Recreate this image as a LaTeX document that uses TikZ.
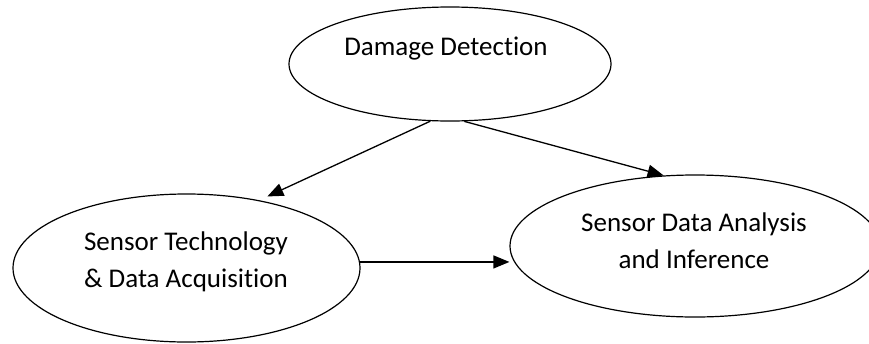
\documentclass[tikz,border=0pt]{standalone}
\usepackage{fontspec}
\setmainfont[Ligatures={NoCommon}]{Carlito}
\usetikzlibrary{arrows.meta,shapes.geometric,calc}
\begin{document}
\begin{tikzpicture}[x=1pt,y=-1pt,
  bubble/.style={draw=black,line width=1.2pt,ellipse,inner sep=0pt},
  txt/.style={font=\fontsize{27}{37}\selectfont,align=center,inner sep=0pt},
  conn/.style={line width=1.3pt,-{Triangle[length=16pt,width=13pt]}}]
\clip (0,0) rectangle (869,343);
\fill[white] (0,0) rectangle (869,343);
\node[bubble,minimum width=322pt,minimum height=114pt] (top) at (450,64) {};
\node[txt] (toptxt) at (446,49) {Damage Detection};
\node[bubble,minimum width=347pt,minimum height=148pt] (left) at (186.5,268) {};
\node[txt] (lefttxt) at (186,261.5) {Sensor Technology\\\& Data Acquisition};
\node[bubble,minimum width=370pt,minimum height=142pt] (right) at (695,246) {};
\node[txt] (righttxt) at (694,240.5) {Sensor Data Analysis\\and Inference};
\draw[conn,shorten >=9pt] (top.251) -- (left.43);
\draw[conn] (top.284.5) -- (right.114.6);
\draw[conn] (left.2.4) -- (left.2.4 -| right.west);
\end{tikzpicture}
\end{document}
